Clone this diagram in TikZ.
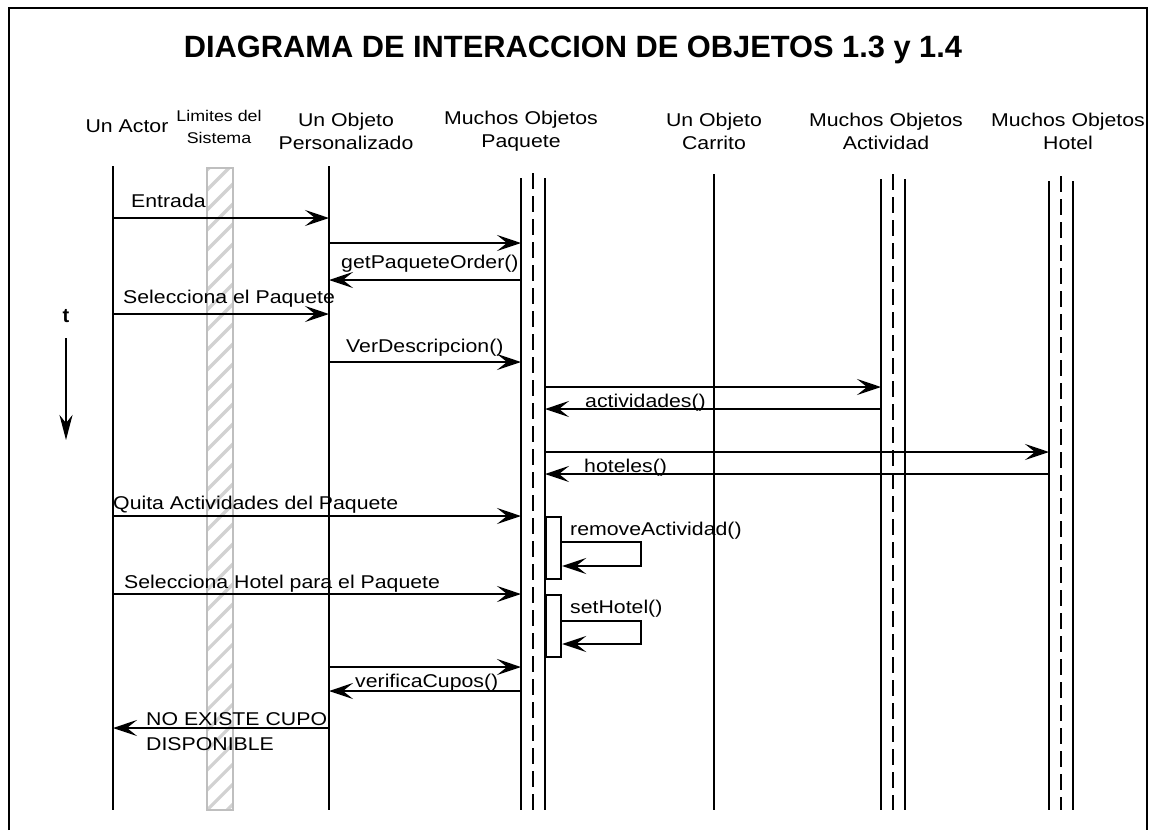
\documentclass[tikz,border=0pt]{standalone}
\usepackage{fontspec}
\setmainfont{Liberation Sans}
\newfontfamily\lblfont[FakeStretch=1.15]{Liberation Sans}
\usetikzlibrary{arrows.meta}
\begin{document}
\begin{tikzpicture}[x=1pt,y=-1pt,
  life/.style={line width=2.5pt},
  dashlife/.style={line width=2.5pt, dash pattern=on 16pt off 7pt},
  msghead/.tip={Stealth[length=24pt,width=16pt,inset=10pt]},
  msg/.style={line width=2.5pt, -msghead},
  lbl/.style={font=\lblfont\fontsize{18.5}{23}\selectfont, inner sep=0pt},
  hdr/.style={lbl, align=center},
  actbox/.style={draw, line width=2.2pt, fill=white, minimum width=15pt, minimum height=62pt, inner sep=0pt, anchor=north west}]
\useasboundingbox (0,0) rectangle (1156,830);
% frame
\draw[line width=2.2pt] (9,830) -- (9,8) -- (1147,8) -- (1147,830);
% title
\node[font=\bfseries\fontsize{30.8}{36}\selectfont, inner sep=0pt] (title) at (573,50) {DIAGRAMA DE INTERACCION DE OBJETOS 1.3 y 1.4};
% headers
\node[lbl, anchor=base] (hA) at (127,132) {Un Actor};
\node[font=\lblfont\fontsize{15.5}{22.5}\selectfont, inner sep=0pt, align=center] (hL) at (219,127) {Limites del\\Sistema};
\node[hdr] (hP) at (346,131) {Un Objeto\\Personalizado};
\node[hdr] (hQ) at (521,131) {Muchos Objetos\\Paquete};
\node[hdr] (hC) at (714,131) {Un Objeto\\Carrito};
\node[hdr] (hAc) at (886,131) {Muchos Objetos\\Actividad};
\node[hdr] (hH) at (1068,131) {Muchos Objetos\\Hotel};
% lifeline coordinates
\coordinate (A) at (113,0);
\coordinate (P) at (329,0);
\coordinate (Q1) at (521,0);
\coordinate (Q2) at (533,0);
\coordinate (Q3) at (545,0);
\coordinate (C) at (714,0);
\coordinate (V1) at (881,0);
\coordinate (V2) at (893,0);
\coordinate (V3) at (905,0);
\coordinate (H1) at (1049,0);
\coordinate (H2) at (1061,0);
\coordinate (H3) at (1073,0);
% system boundary (hatched)
\begin{scope}
  \clip (207,168) rectangle (233,810);
  \foreach \y in {150,170,...,850} {
    \draw[line width=3.2pt, gray!35] (205,\y+2) -- (235,\y-28);
  }
\end{scope}
\draw[line width=2.4pt, gray!50] (207,168) rectangle (233,810);
% lifelines
\draw[life] (A |- 0,166) -- (A |- 0,810);
\draw[life] (P |- 0,166) -- (P |- 0,810);
\draw[life] (Q1 |- 0,178) -- (Q1 |- 0,810);
\draw[dashlife] (Q2 |- 0,173) -- (Q2 |- 0,810);
\draw[life] (Q3 |- 0,178) -- (Q3 |- 0,810);
\draw[life] (C |- 0,174) -- (C |- 0,810);
\draw[life] (V1 |- 0,179) -- (V1 |- 0,810);
\draw[dashlife] (V2 |- 0,174) -- (V2 |- 0,810);
\draw[life] (V3 |- 0,179) -- (V3 |- 0,810);
\draw[life] (H1 |- 0,181) -- (H1 |- 0,810);
\draw[dashlife] (H2 |- 0,176) -- (H2 |- 0,810);
\draw[life] (H3 |- 0,181) -- (H3 |- 0,810);
% time arrow
\node[font=\bfseries\fontsize{20}{24}\selectfont, inner sep=0pt] (t) at (66,316) {t};
\coordinate (t1) at (66,338);
\coordinate (t2) at (66,440);
\draw[line width=2.2pt, -{Stealth[length=25pt,width=13pt,inset=8pt]}] (t1) -- (t2);
% messages
\draw[msg] (A |- 0,218) -- (P |- 0,218);
\node[lbl, anchor=base west] (m1) at (131,207) {Entrada};
\draw[msg] (P |- 0,243) -- (Q1 |- 0,243);
\draw[msg] (Q1 |- 0,280) -- (P |- 0,280);
\node[lbl, anchor=base west] (m2) at (341,268) {getPaqueteOrder()};
\draw[msg] (A |- 0,314) -- (P |- 0,314);
\node[lbl, anchor=base west] (m3) at (123,303) {Selecciona el Paquete};
\draw[msg] (P |- 0,362) -- (Q1 |- 0,362);
\node[lbl, anchor=base west] (m4) at (346,352) {VerDescripcion()};
\draw[msg] (Q3 |- 0,387) -- (V1 |- 0,387);
\draw[msg] (V1 |- 0,409) -- (Q3 |- 0,409);
\node[lbl, anchor=base west] (m5) at (585,407) {actividades()};
\draw[msg] (Q3 |- 0,452) -- (H1 |- 0,452);
\draw[msg] (H1 |- 0,474) -- (Q3 |- 0,474);
\node[lbl, anchor=base west] (m6) at (584,472) {hoteles()};
\draw[msg] (A |- 0,516) -- (Q1 |- 0,516);
\node[lbl, anchor=base west] (m7) at (113,509) {Quita Actividades del Paquete};
\node[actbox] (b1) at (545,516) {};
\draw[msg] (b1.east |- 0,542) -- (641,542) -- (641,566) -- (b1.east |- 0,566);
\node[lbl, anchor=base west] (m8) at (570,535) {removeActividad()};
\draw[msg] (A |- 0,594) -- (Q1 |- 0,594);
\node[lbl, anchor=base west] (m9) at (124,588) {Selecciona Hotel para el Paquete};
\node[actbox] (b2) at (545,594) {};
\draw[msg] (b2.east |- 0,621) -- (641,621) -- (641,644) -- (b2.east |- 0,644);
\node[lbl, anchor=base west] (m10) at (570,613) {setHotel()};
\draw[msg] (P |- 0,667) -- (Q1 |- 0,667);
\draw[msg] (Q1 |- 0,691) -- (P |- 0,691);
\node[lbl, anchor=base west] (m11) at (355,687) {verificaCupos()};
\draw[msg] (P |- 0,728) -- (A |- 0,728);
\node[lbl, anchor=base west] (m12) at (146,725) {NO EXISTE CUPO};
\node[lbl, anchor=base west] (m13) at (146,750) {DISPONIBLE};
\end{tikzpicture}
\end{document}
